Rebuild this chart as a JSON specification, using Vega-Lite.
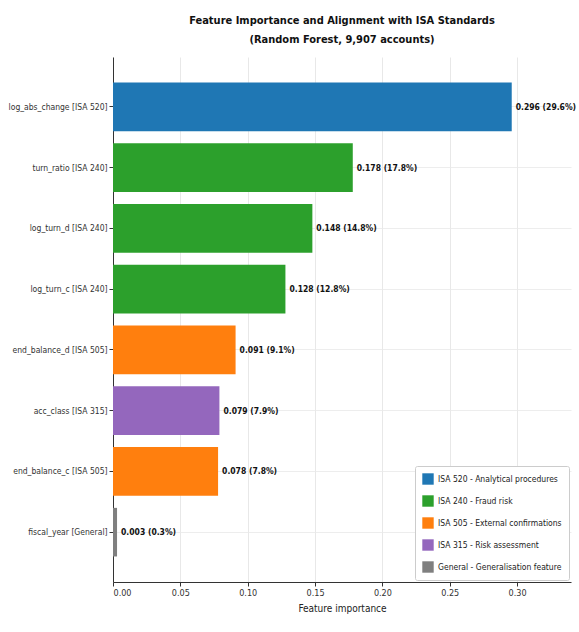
{
  "$schema": "https://vega.github.io/schema/vega-lite/v6.json",
  "autosize": "none",
  "width": 458,
  "height": 525,
  "padding": {"left": 113, "top": 57, "right": 8, "bottom": 50},
  "background": "white",
  "title": {
    "text": ["Feature Importance and Alignment with ISA Standards", "(Random Forest, 9,907 accounts)"],
    "font": "DejaVu Sans Condensed",
    "fontSize": 11,
    "fontWeight": "bold",
    "color": "#111",
    "anchor": "middle",
    "offset": 12,
    "lineHeight": 19
  },
  "config": {
    "font": "DejaVu Sans Condensed",
    "view": {"stroke": null},
    "axis": {
      "labelFont": "DejaVu Sans Condensed",
      "titleFont": "DejaVu Sans Condensed",
      "labelColor": "#333",
      "titleColor": "#222",
      "domainColor": "#333",
      "tickColor": "#333",
      "gridColor": "#e8e8e8",
      "labelFontSize": 9,
      "titleFontSize": 10,
      "titleFontWeight": "normal"
    }
  },
  "data": {
    "values": [
      {"feature": "log_abs_change [ISA 520]", "importance": 0.296, "label": "0.296 (29.6%)", "group": "ISA 520 - Analytical procedures"},
      {"feature": "turn_ratio [ISA 240]", "importance": 0.178, "label": "0.178 (17.8%)", "group": "ISA 240 - Fraud risk"},
      {"feature": "log_turn_d [ISA 240]", "importance": 0.148, "label": "0.148 (14.8%)", "group": "ISA 240 - Fraud risk"},
      {"feature": "log_turn_c [ISA 240]", "importance": 0.128, "label": "0.128 (12.8%)", "group": "ISA 240 - Fraud risk"},
      {"feature": "end_balance_d [ISA 505]", "importance": 0.091, "label": "0.091 (9.1%)", "group": "ISA 505 - External confirmations"},
      {"feature": "acc_class [ISA 315]", "importance": 0.079, "label": "0.079 (7.9%)", "group": "ISA 315 - Risk assessment"},
      {"feature": "end_balance_c [ISA 505]", "importance": 0.078, "label": "0.078 (7.8%)", "group": "ISA 505 - External confirmations"},
      {"feature": "fiscal_year [General]", "importance": 0.003, "label": "0.003 (0.3%)", "group": "General - Generalisation feature"}
    ]
  },
  "encoding": {
    "y": {
      "field": "feature",
      "type": "nominal",
      "sort": null,
      "title": null,
      "scale": {"paddingInner": 0.2, "paddingOuter": 0.42},
      "axis": {"grid": true, "gridOpacity": 0.8, "tickSize": 4, "labelPadding": 2, "labelFontSize": 8.5}
    },
    "x": {
      "field": "importance",
      "type": "quantitative",
      "title": "Feature importance",
      "scale": {"domain": [0, 0.34], "nice": false, "zero": true},
      "axis": {"values": [0, 0.05, 0.1, 0.15, 0.2, 0.25, 0.3], "format": ".2f", "grid": true, "tickSize": 4, "titlePadding": 6}
    }
  },
  "layer": [
    {
      "mark": {"type": "bar"},
      "encoding": {
        "color": {
          "field": "group",
          "type": "nominal",
          "scale": {
            "domain": ["ISA 520 - Analytical procedures", "ISA 240 - Fraud risk", "ISA 505 - External confirmations", "ISA 315 - Risk assessment", "General - Generalisation feature"],
            "range": ["#1f77b4", "#2ca02c", "#ff7f0e", "#9467bd", "#7f7f7f"]
          },
          "legend": {
            "title": null,
            "orient": "bottom-right",
            "offset": 2,
            "symbolType": "square",
            "symbolSize": 130,
            "symbolStrokeWidth": 0,
            "labelFontSize": 8.5,
            "labelFont": "DejaVu Sans Condensed",
            "labelColor": "#222",
            "rowPadding": 10,
            "padding": 7,
            "strokeColor": "#ccc",
            "fillColor": "white",
            "cornerRadius": 2,
            "labelLimit": 200
          }
        }
      }
    },
    {
      "mark": {"type": "text", "align": "left", "baseline": "middle", "dx": 4, "fontWeight": "bold", "fontSize": 8.5, "color": "#111"},
      "encoding": {"text": {"field": "label"}}
    }
  ]
}
